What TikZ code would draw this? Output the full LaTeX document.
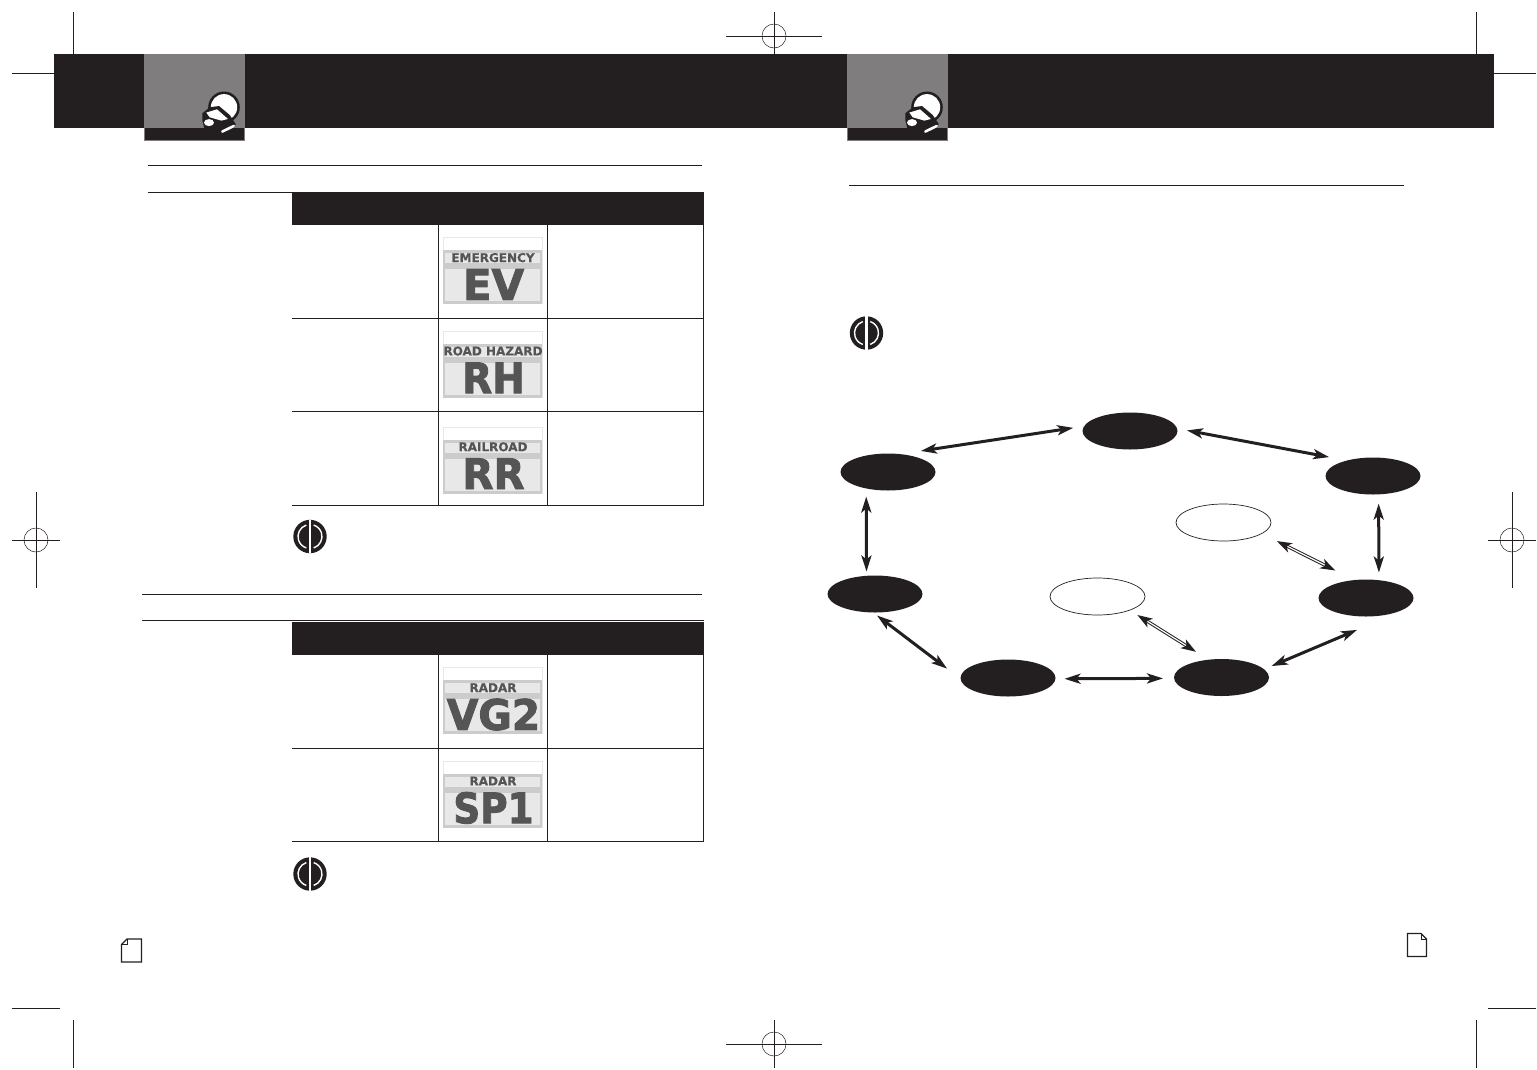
\documentclass[tikz,border=0pt]{standalone}
\usepackage{fontspec}
\setmainfont{DejaVu Sans}
\newfontfamily\lcdfont[FakeBold=0.6]{DejaVu Sans Bold}
\newfontfamily\lcdheavy[FakeBold=2.2]{DejaVu Sans Bold}
\usetikzlibrary{arrows.meta,shapes.geometric}
\definecolor{ink}{HTML}{231F20}
\definecolor{tabgray}{HTML}{7F7D7D}
\definecolor{lcdback}{HTML}{CCCCCC}
\definecolor{lcdlight}{HTML}{E8E8E8}
\definecolor{lcdtext}{HTML}{555555}

% one display tile: name, top edge, small text, big text, big text xscale
\newcommand{\lcdtile}[5]{%
  \fill[lcdlight] (442.5,#2) rectangle (542.5,#2+67);
  \fill[white] (443.5,#2+1) rectangle (541.5,#2+13);
  \fill[lcdback] (443,#2+13) rectangle (542,#2+67);
  \fill[lcdlight] (445,#2+16) rectangle (540,#2+26);
  \fill[lcdlight] (445,#2+32) rectangle (540,#2+64);
  \node[lcdsmall] (#1top) at (493,#2+24.7) {#3};
  \node[lcdbig,xscale=#5] (#1big) at (493.5,#2+62.5) {#4};
}

\begin{document}
\begin{tikzpicture}[
  x=1pt,y=-1pt,
  cropline/.style={draw=ink,line width=0.5pt},
  rule/.style={draw=ink,line width=1pt},
  lcdsmall/.style={anchor=base,inner sep=0pt,text=lcdtext,font=\fontsize{12}{12}\lcdfont},
  lcdbig/.style={anchor=base,inner sep=0pt,text=lcdtext,font=\fontsize{42}{42}\lcdheavy},
  modefill/.style={ellipse,fill=ink,inner sep=0pt,outer sep=0pt,minimum width=95pt,minimum height=37pt},
  modeopen/.style={ellipse,draw=ink,line width=0.7pt,fill=white,inner sep=0pt,outer sep=0pt,minimum width=95pt,minimum height=37pt},
  twoway/.style 2 args={{Stealth[length=16pt,width=10pt,inset=4pt]}-{Stealth[length=16pt,width=10pt,inset=4pt]},draw=ink,line width=3pt,shorten <=#1pt,shorten >=#2pt},
  twothin/.style 2 args={{Stealth[length=15pt,width=10pt,inset=4pt]}-{Stealth[length=15pt,width=10pt,inset=4pt]},draw=ink,line width=3.2pt,shorten <=#1pt,shorten >=#2pt,
    postaction={draw=white,line width=1.2pt,arrows=-,shorten <=#1pt+12pt,shorten >=#2pt+12pt}},
  regmark/.pic={
    \draw[cropline] (-48,0)--(48,0);
    \draw[cropline] (0,-24)--(0,24);
    \draw[cropline] (0,0) circle (12pt);
  },
  noteicon/.pic={
    \fill[ink] (0,0) circle (16.7pt);
    \draw[white,line width=1.4pt] (108:12pt) arc[start angle=108,end angle=252,radius=12pt];
    \draw[white,line width=1.4pt] (-72:12pt) arc[start angle=-72,end angle=72,radius=12pt];
    \fill[white] (-1.2,-16.7) rectangle (1.2,16.7);
  },
  pageicon/.pic={
    \fill[ink] (0,0) circle (15.8pt);
    \fill[white] (0,0) circle (13.2pt);
    \fill[ink] (-21.7,6)--(-14.3,0)--(-5,-1.3)--(5.7,7.7)--(11.7,16.7)--(9,22.7)--(-19.3,22.7)--(-21.7,12.7)--cycle;
    \fill[white] (-17.7,5.3)--(-7,2)--(4,11.7)--(-2.7,13.3)--(-14.3,10)--cycle;
    \fill[white] (-15,15.3) ellipse (5pt and 3.5pt);
    \draw[white,line width=2.6pt,line cap=round] (-1.7,24.3)--(9.7,18.7);
  }
]
\useasboundingbox (0,0) rectangle (1537,1069);

% ---- page header ----
\fill[ink] (54,54) rectangle (1494,128);
\fill[tabgray] (144,54) rectangle (245,141);
\fill[ink] (145,128) rectangle (244,140);
\fill[tabgray] (847,54) rectangle (948,141);
\fill[ink] (848,128) rectangle (947,140);
\pic at (224,107.3) {pageicon};
\pic at (927,107.3) {pageicon};

% ---- crop and registration marks ----
\draw[cropline] (73,12)--(73,60);
\draw[cropline] (12,73)--(54,73);
\draw[cropline] (1476,12)--(1476,60);
\draw[cropline] (1494,73)--(1536,73);
\draw[cropline] (73,1020)--(73,1068);
\draw[cropline] (12,1008)--(60,1008);
\draw[cropline] (1476,1020)--(1476,1068);
\draw[cropline] (1488,1008)--(1536,1008);
\pic at (774,36) {regmark};
\pic at (774,1044) {regmark};
\pic[rotate=90] at (36,540) {regmark};
\pic[rotate=90] at (1512,540) {regmark};

% ---- upper table ----
\draw[rule] (148,165.5)--(702,165.5);
\draw[rule] (148,192.5)--(292,192.5);
\fill[ink] (292,192) rectangle (704,225);
\draw[rule] (292,318.5)--(704,318.5);
\draw[rule] (292,411.5)--(704,411.5);
\draw[rule] (292,505.5)--(704,505.5);
\draw[rule] (438.5,225)--(438.5,505.5);
\draw[rule] (547.5,225)--(547.5,505.5);
\draw[rule] (703.5,225)--(703.5,505.5);
\lcdtile{ev}{237.3}{EMERGENCY}{EV}{1}
\lcdtile{rh}{330.7}{ROAD HAZARD}{RH}{0.93}
\lcdtile{rr}{426.5}{RAILROAD}{RR}{0.96}
\pic at (310,536.5) {noteicon};

% ---- lower table ----
\draw[rule] (142,594.5)--(702,594.5);
\draw[rule] (142,620.5)--(704,620.5);
\fill[ink] (292,622) rectangle (704,655);
\draw[rule] (292,748.5)--(704,748.5);
\draw[rule] (292,841.5)--(704,841.5);
\draw[rule] (438.5,655)--(438.5,841.5);
\draw[rule] (547.5,655)--(547.5,841.5);
\draw[rule] (703.5,655)--(703.5,841.5);
\lcdtile{vg}{667.3}{RADAR}{VG2}{0.97}
\lcdtile{sp}{760.7}{RADAR}{SP1}{0.89}
\pic at (310,874) {noteicon};

% ---- page corners ----
\draw[ink,line width=1.2pt,line join=miter] (127,939)--(141.5,939)--(141.5,962)--(121.5,962)--(121.5,944.5)--cycle;
\draw[ink,line width=0.8pt] (121.5,944.5)--(127,944.5)--(127,939);
\draw[ink,line width=1.2pt,line join=miter] (1407.5,933.5)--(1421,933.5)--(1426.5,939)--(1426.5,956.5)--(1407.5,956.5)--cycle;
\draw[ink,line width=0.8pt] (1421,933.5)--(1421,939)--(1426.5,939);

% ---- right page ----
\draw[rule] (849,185.5)--(1404,185.5);
\pic at (866.5,333) {noteicon};

% ---- mode ring ----
\node[modefill] (top) at (1130,431) {};
\node[modefill] (upl) at (888,472) {};
\node[modefill] (upr) at (1373,476) {};
\node[modefill] (lol) at (875,594) {};
\node[modefill] (lor) at (1366,598) {};
\node[modefill] (botl) at (1008,678) {};
\node[modefill] (botr) at (1221.5,677.5) {};
\node[modeopen] (optr) at (1223.5,522.5) {};
\node[modeopen] (optl) at (1097.5,596.5) {};

\draw[twoway={21}{11}] (upl.56)--(top.174);
\draw[twoway={10}{18.3}] (top.3.4)--(upr.149);
\draw[twoway={8.1}{4.3}] (upl.217.5)--(lol.115.7);
\draw[twoway={9.2}{7.7}] (upr.287.7)--(lor.54.6);
\draw[twoway={5}{16.8}] (lol.264)--(botl.181.2);
\draw[twoway={9}{11}] (botl.359)--(botr.181);
\draw[twoway={8.2}{9.7}] (botr.11.2)--([yshift=-9.6pt]lor.south);
\draw[twothin={16.8}{21.2}] (optr.344)--(lor.123);
\draw[twothin={9.1}{14.8}] (optl.337)--(botr.126);

\end{tikzpicture}
\end{document}
